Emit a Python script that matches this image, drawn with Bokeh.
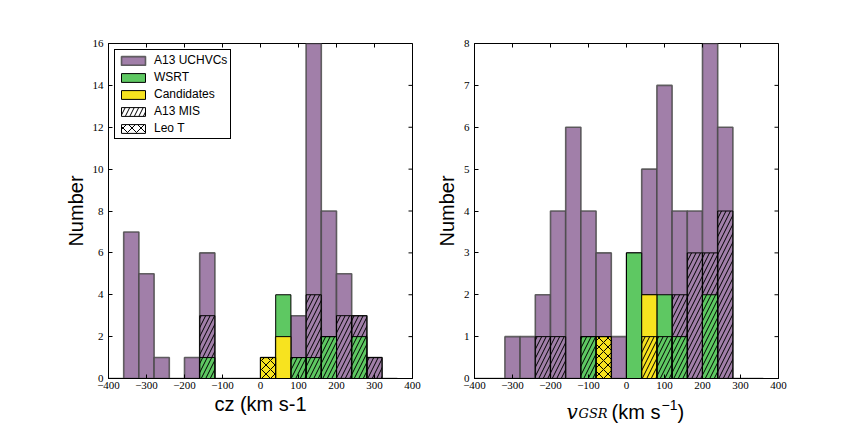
import math
from bokeh.plotting import figure
from bokeh.models import (ColumnDataSource, SingleIntervalTicker,
                          Legend, LegendItem, Label, Range1d)
from bokeh.layouts import row, column
from bokeh.embed import file_html
from bokeh.resources import INLINE

# ---------------- data ----------------
bin_left = list(range(-400, 360, 40))          # 19 bins of 40 km/s
bin_right = [b + 40 for b in bin_left]

# cz histogram (left panel)
cz_all       = [0, 7, 5, 1, 0, 1, 6, 0, 0, 0, 1, 2, 3, 16, 8, 5, 3, 1, 0]
cz_wsrt      = [0, 0, 0, 0, 0, 0, 1, 0, 0, 0, 0, 4, 1, 1, 2, 0, 2, 0, 0]
cz_cand      = [0, 0, 0, 0, 0, 0, 0, 0, 0, 0, 1, 2, 0, 0, 0, 0, 0, 0, 0]
cz_mis       = [0, 0, 0, 0, 0, 0, 3, 0, 0, 0, 0, 0, 1, 4, 2, 3, 3, 1, 0]
cz_leot      = [0, 0, 0, 0, 0, 0, 0, 0, 0, 0, 1, 0, 0, 0, 0, 0, 0, 0, 0]

# v_GSR histogram (right panel)
gsr_all      = [0, 0, 1, 1, 2, 4, 6, 4, 3, 1, 3, 5, 7, 4, 4, 8, 6, 0, 0]
gsr_wsrt     = [0, 0, 0, 0, 0, 0, 0, 1, 0, 0, 3, 2, 2, 1, 0, 2, 0, 0, 0]
gsr_cand     = [0, 0, 0, 0, 0, 0, 0, 0, 1, 0, 0, 2, 0, 0, 0, 0, 0, 0, 0]
gsr_mis      = [0, 0, 0, 0, 1, 1, 0, 1, 0, 0, 0, 1, 1, 2, 3, 3, 4, 0, 0]
gsr_leot     = [0, 0, 0, 0, 0, 0, 0, 0, 1, 0, 0, 0, 0, 0, 0, 0, 0, 0, 0]

x_ticks = list(range(-400, 401, 100))
y_ticks_left = list(range(0, 17, 2))
y_ticks_right = list(range(0, 9, 1))
legend_labels = ["A13 UCHVCs", "WSRT", "Candidates", "A13 MIS", "Leo T"]
y_label = "Number"
x_label_left = "cz (km s-1"
# right x label pieces: (text, x px from frame left, baseline px above strip bottom, font, style, size)
x_label_right = [
    ("v", 92, 18.5, "DejaVu Serif", "italic", "20px"),
    ("GSR", 104, 16.8, "DejaVu Serif", "italic", "13px"),
    ("(km s", 137, 18.5, "Liberation Sans", "normal", "20px"),
    ("\u22121", 187, 25.5, "Liberation Sans", "normal", "14px"),
    (")", 203, 18.5, "Liberation Sans", "normal", "20px"),
]

# ---------------- styles ----------------
PURPLE = "#a17fa9"
GREEN = "#5ec862"
YELLOW = "#f7e31f"
TICK_FONT = "Liberation Serif"
SANS = "Liberation Sans"

minus_overrides = {t: (str(t).replace("-", "\u2212")) for t in x_ticks}


def style_axes(p, ymax, yint, yticks):
    p.x_range = Range1d(-400, 400)
    p.y_range = Range1d(0, ymax)
    p.xgrid.visible = False
    p.ygrid.visible = False
    p.outline_line_color = "black"
    p.outline_line_alpha = 1
    p.outline_line_width = 1
    p.background_fill_color = "white"
    p.border_fill_color = "white"
    p.xaxis.ticker = SingleIntervalTicker(interval=100)
    p.yaxis.ticker = SingleIntervalTicker(interval=yint)
    p.xaxis.major_label_overrides = minus_overrides
    for ax in (p.xaxis[0], p.yaxis[0]):
        ax.major_tick_in = 4
        ax.major_tick_out = 0
        ax.minor_tick_in = 0
        ax.minor_tick_out = 0
        ax.major_tick_line_color = "black"
        ax.axis_line_color = "black"
        ax.major_label_text_font = TICK_FONT
        ax.major_label_text_font_size = "11px"
        ax.major_label_text_color = "black"
        ax.axis_label_text_font = SANS
        ax.axis_label_text_font_size = "20px"
        ax.axis_label_text_font_style = "normal"
        ax.axis_label_text_color = "black"
    p.xaxis.major_label_standoff = 3
    p.yaxis.major_label_standoff = 5
    p.yaxis.axis_label_standoff = 3
    p.xaxis.axis_label_standoff = 1
    # inward ticks on the top and right frame edges (clipped half of a dash marker)
    p.scatter(x=x_ticks, y=[ymax] * len(x_ticks), marker="dash", size=8,
              angle=math.pi / 2, line_color="black", line_width=1)
    p.scatter(x=[400] * len(yticks), y=yticks, marker="dash", size=8,
              angle=0, line_color="black", line_width=1)


def draw_hist(p, all_, wsrt, cand, mis, leot):
    src = ColumnDataSource(dict(left=bin_left, right=bin_right, all=all_,
                                wsrt=wsrt, cand=cand, mis=mis, leot=leot))
    r_all = p.quad(left="left", right="right", bottom=0, top="all", source=src,
                   fill_color=PURPLE, line_color="#4a4a4a", line_width=1.6,
                   line_alpha=0.85)
    r_wsrt = p.quad(left="left", right="right", bottom=0, top="wsrt", source=src,
                    fill_color=GREEN, line_color="black", line_width=1)
    r_cand = p.quad(left="left", right="right", bottom=0, top="cand", source=src,
                    fill_color=YELLOW, line_color="black", line_width=1)
    r_mis = p.quad(left="left", right="right", bottom=0, top="mis", source=src,
                   fill_color="white", fill_alpha=0, line_color="black", line_width=1,
                   hatch_pattern="/", hatch_color="black", hatch_scale=9,
                   hatch_weight=1)
    r_leot = p.quad(left="left", right="right", bottom=0, top="leot", source=src,
                    fill_color="white", fill_alpha=0, line_color="black", line_width=1,
                    hatch_pattern="x", hatch_color="black", hatch_scale=9,
                    hatch_weight=1)
    return [r_all, r_wsrt, r_cand, r_mis, r_leot]


# ---------------- left panel ----------------
p1 = figure(width=432, height=430, output_backend="svg", toolbar_location=None,
            min_border_left=108, min_border_right=20, min_border_top=43,
            min_border_bottom=52)
rends = draw_hist(p1, cz_all, cz_wsrt, cz_cand, cz_mis, cz_leot)
style_axes(p1, 16, 2, y_ticks_left)
p1.xaxis.axis_label = x_label_left
p1.yaxis.axis_label = y_label

legend = Legend(items=[LegendItem(label=l, renderers=[r]) for l, r in zip(legend_labels, rends)],
                location="top_left", margin=6, padding=3, spacing=3,
                glyph_width=30, glyph_height=11, label_height=14,
                label_standoff=6, label_text_font=SANS,
                label_text_font_size="12px", label_text_color="black",
                border_line_color="black", border_line_width=1,
                border_line_alpha=1, background_fill_color="white",
                background_fill_alpha=1)
p1.add_layout(legend, "center")

# ---------------- right panel ----------------
p2 = figure(width=396, height=398, output_backend="svg", toolbar_location=None,
            min_border_left=41, min_border_right=50, min_border_top=43,
            min_border_bottom=20)
draw_hist(p2, gsr_all, gsr_wsrt, gsr_cand, gsr_mis, gsr_leot)
style_axes(p2, 8, 1, y_ticks_right)
p2.yaxis.axis_label = y_label

# strip below the right panel that carries its composite x-axis label
p3 = figure(width=396, height=32, output_backend="svg", toolbar_location=None,
            min_border_left=41, min_border_right=50, min_border_top=0,
            min_border_bottom=0, x_axis_location=None, y_axis_location=None,
            x_range=Range1d(0, 1), y_range=Range1d(0, 1))
p3.outline_line_color = None
p3.xgrid.visible = False
p3.ygrid.visible = False
p3.background_fill_color = "white"
p3.border_fill_color = "white"
for txt, lx, ly, fnt, sty, size in x_label_right:
    p3.add_layout(Label(x=lx, y=ly, x_units="screen", y_units="screen", text=txt,
                        text_font=fnt, text_font_style=sty,
                        text_font_size=size, text_color="black",
                        text_align="left", text_baseline="alphabetic"))

layout = row(p1, column(p2, p3))
open("out.html", "w").write(file_html(layout, INLINE))
